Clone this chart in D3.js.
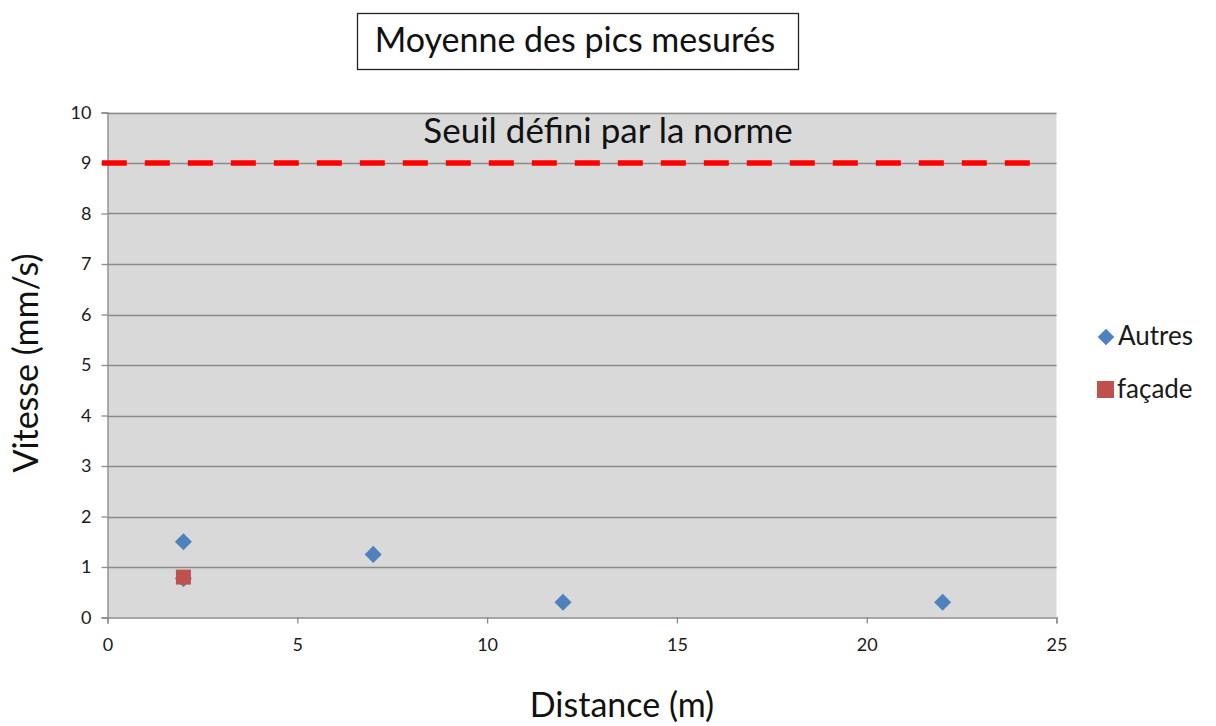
<!DOCTYPE html>
<html>
<head>
<meta charset="utf-8">
<script src="https://cdn.jsdelivr.net/npm/d3@7"></script>
<style>
  html, body { margin: 0; padding: 0; background: #ffffff; }
  svg { display: block; font-family: "Lato", "Open Sans", "Liberation Sans", sans-serif; }
</style>
</head>
<body>
<svg id="chart" width="1216" height="726"></svg>
<script>
// Measured peak velocities by distance
const autresDistance = [2, 2, 7, 12, 22];
const autresVitesse  = [1.5, 0.77, 1.25, 0.3, 0.3];
const facadeDistance = [2];
const facadeVitesse  = [0.8];

// Threshold defined by the standard
const seuilValeur = 9;
const seuilEtendue = [-0.15, 24.5];

const xTicks = [0, 5, 10, 15, 20, 25];
const yTicks = [0, 1, 2, 3, 4, 5, 6, 7, 8, 9, 10];

const svg = d3.select("#chart");

const plot = { left: 107.5, right: 1056.5, top: 112.5, bottom: 617.5 };

const x = d3.scaleLinear().domain([0, 25]).range([plot.left, plot.right]);
const y = d3.scaleLinear().domain([0, 10]).range([plot.bottom, plot.top]);

// Plot area background
svg.append("rect")
  .attr("x", plot.left).attr("y", plot.top)
  .attr("width", plot.right - plot.left).attr("height", plot.bottom - plot.top)
  .attr("fill", "#d9d9d9");

// Horizontal gridlines
svg.append("g")
  .selectAll("line")
  .data(yTicks.filter(d => d > 0))
  .join("line")
  .attr("x1", plot.left).attr("x2", plot.right)
  .attr("y1", d => Math.round(y(d)) + 0.5).attr("y2", d => Math.round(y(d)) + 0.5)
  .attr("stroke", "#8a8a8a").attr("stroke-width", 1.3);

// Y axis
const yAxis = svg.append("g")
  .attr("transform", `translate(${plot.left},0)`)
  .call(d3.axisLeft(y).tickValues(yTicks).tickSize(6).tickPadding(10).tickFormat(d3.format("d")));
yAxis.select(".domain").attr("stroke", "#8a8a8a").attr("stroke-width", 1.3);
yAxis.selectAll(".tick line").attr("stroke", "#8a8a8a").attr("stroke-width", 1.3);
yAxis.selectAll(".tick text").attr("font-size", 18).attr("fill", "#1a1a1a").attr("font-family", "Lato, sans-serif");

// X axis
const xAxis = svg.append("g")
  .attr("transform", `translate(0,${plot.bottom})`)
  .call(d3.axisBottom(x).tickValues(xTicks).tickSize(6).tickPadding(15).tickFormat(d3.format("d")));
xAxis.select(".domain").attr("stroke", "#8a8a8a").attr("stroke-width", 1.3);
xAxis.selectAll(".tick line").attr("stroke", "#8a8a8a").attr("stroke-width", 1.3);
xAxis.selectAll(".tick text").attr("font-size", 18).attr("fill", "#1a1a1a").attr("font-family", "Lato, sans-serif");

// Threshold dashed line
svg.append("line")
  .attr("x1", x(seuilEtendue[0])).attr("x2", x(seuilEtendue[1]))
  .attr("y1", y(seuilValeur)).attr("y2", y(seuilValeur))
  .attr("stroke", "#ff0000").attr("stroke-width", 5.5)
  .attr("stroke-dasharray", "25 18");

svg.append("text")
  .attr("x", 608).attr("y", 143)
  .attr("text-anchor", "middle")
  .attr("font-size", 35).attr("fill", "#111")
  .text("Seuil défini par la norme");

// Series markers
const autres = autresDistance.map((d, i) => ({ x: d, y: autresVitesse[i] }));
const facade = facadeDistance.map((d, i) => ({ x: d, y: facadeVitesse[i] }));

const diamond = d3.symbol().type(d3.symbolDiamond2).size(185);

svg.append("g")
  .selectAll("path")
  .data(autres)
  .join("path")
  .attr("d", diamond)
  .attr("transform", d => `translate(${x(d.x)},${y(d.y)})`)
  .attr("fill", "#4f81bd");

svg.append("g")
  .selectAll("rect")
  .data(facade)
  .join("rect")
  .attr("x", d => x(d.x) - 7.5).attr("y", d => y(d.y) - 7.5)
  .attr("width", 15).attr("height", 15)
  .attr("fill", "#c0504d");

// Legend
const legend = svg.append("g");
legend.append("path")
  .attr("d", d3.symbol().type(d3.symbolDiamond2).size(175))
  .attr("transform", "translate(1106,337)")
  .attr("fill", "#4f81bd");
legend.append("text")
  .attr("x", 1118).attr("y", 345)
  .attr("font-size", 26).attr("fill", "#1a1a1a")
  .text("Autres");
legend.append("rect")
  .attr("x", 1097).attr("y", 381).attr("width", 17).attr("height", 17)
  .attr("fill", "#c0504d");
legend.append("text")
  .attr("x", 1117).attr("y", 398)
  .attr("font-size", 26).attr("fill", "#1a1a1a")
  .text("façade");

// Title box
svg.append("rect")
  .attr("x", 357.5).attr("y", 13.5).attr("width", 441).attr("height", 56)
  .attr("fill", "#fff").attr("stroke", "#222").attr("stroke-width", 1.3);
svg.append("text")
  .attr("x", 575).attr("y", 52)
  .attr("text-anchor", "middle")
  .attr("font-size", 34).attr("fill", "#111")
  .text("Moyenne des pics mesurés");

// Axis titles
svg.append("text")
  .attr("transform", "translate(38,363) rotate(-90)")
  .attr("text-anchor", "middle")
  .attr("font-size", 34).attr("fill", "#111")
  .text("Vitesse (mm/s)");
svg.append("text")
  .attr("x", 622).attr("y", 717)
  .attr("text-anchor", "middle")
  .attr("font-size", 34).attr("fill", "#111")
  .text("Distance (m)");
</script>
</body>
</html>
